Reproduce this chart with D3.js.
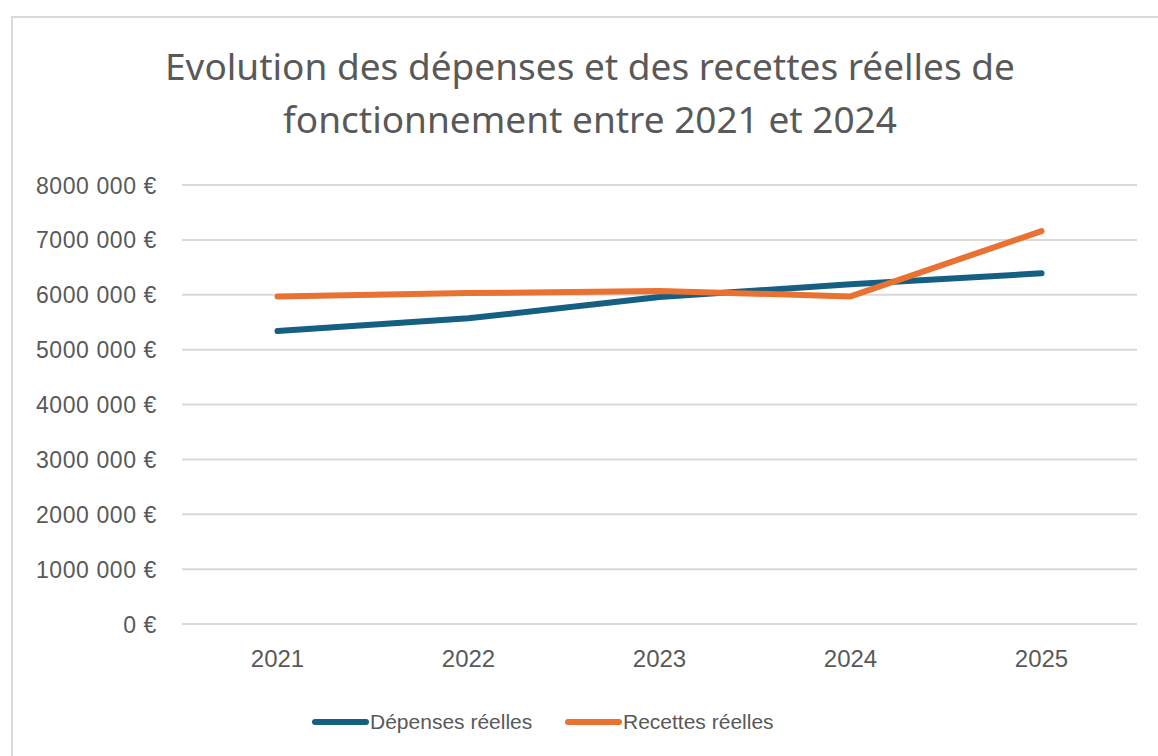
<!DOCTYPE html>
<html lang="fr">
<head>
<meta charset="UTF-8" />
<title>Evolution des dépenses et des recettes réelles</title>
<script src="https://cdn.jsdelivr.net/npm/d3@7"></script>
<style>
  body { margin: 0; background: #fff; }
  svg { display: block; font-family: "Liberation Sans", Arial, sans-serif; }
</style>
</head>
<body>
<svg id="chart" width="1158" height="756"></svg>
<script>
  // Data
  var years = ["2021", "2022", "2023", "2024", "2025"];
  var depenses = [5340000, 5570000, 5960000, 6190000, 6390000];
  var recettes = [5970000, 6030000, 6070000, 5970000, 7160000];
  var yTicks = [0, 1000000, 2000000, 3000000, 4000000, 5000000, 6000000, 7000000, 8000000];
  var titleLines = ["Evolution des dépenses et des recettes réelles de",
                    "fonctionnement entre 2021 et 2024"];
  var seriesNames = ["Dépenses réelles", "Recettes réelles"];
  var colors = ["#156082", "#e97132"];

  var svg = d3.select("#chart");
  var textColor = "#595959";

  // Chart frame (runs off the page on the right and bottom)
  svg.append("rect")
     .attr("x", 12).attr("y", 17)
     .attr("width", 1300).attr("height", 900)
     .attr("fill", "#fff")
     .attr("stroke", "#d9d9d9")
     .attr("stroke-width", 2);

  // Title
  svg.append("g").selectAll("text")
     .data(titleLines)
     .join("text")
     .attr("x", 590)
     .attr("y", (d, i) => 80 + i * 53)
     .attr("text-anchor", "middle")
     .attr("fill", textColor)
     .style("font-family", "'Noto Sans', sans-serif")
     .style("font-size", "37px")
     .text(d => d);

  var x = d3.scaleBand().domain(years).range([182, 1137]);
  var y = d3.scaleLinear().domain([0, 8000000]).range([624, 185]);

  function fmtEuro(v) {
    // "8000 000 €" style as shown in the reference
    if (v === 0) return "0 €";
    var s = String(v);
    return s.slice(0, s.length - 3) + " " + s.slice(-3) + " €";
  }

  // Gridlines
  svg.append("g").selectAll("line")
     .data(yTicks)
     .join("line")
     .attr("x1", 182).attr("x2", 1137)
     .attr("y1", d => y(d)).attr("y2", d => y(d))
     .attr("stroke", "#d9d9d9")
     .attr("stroke-width", 2);

  // Y axis labels
  var yAxis = d3.axisLeft(y).tickValues(yTicks).tickFormat(fmtEuro).tickSize(0).tickPadding(0);
  var gy = svg.append("g").attr("transform", "translate(157,0)").call(yAxis);
  gy.select(".domain").remove();
  gy.selectAll("text")
    .attr("fill", textColor)
    .attr("dy", "0.35em")
    .style("font-size", "23px")
    .style("letter-spacing", "0.6px")
    .style("font-family", "'Liberation Sans', Arial, sans-serif");

  // X axis labels
  var xAxis = d3.axisBottom(x).tickSize(0).tickPadding(0);
  var gx = svg.append("g").attr("transform", "translate(0,650)").call(xAxis);
  gx.select(".domain").remove();
  gx.selectAll("text")
    .attr("fill", textColor)
    .attr("dy", "0.71em")
    .style("font-size", "24px")
    .style("font-family", "'Liberation Sans', Arial, sans-serif");

  // Lines
  var line = d3.line()
     .x((d, i) => x(years[i]) + x.bandwidth() / 2)
     .y(d => y(d));

  [depenses, recettes].forEach(function(series, k) {
    svg.append("path")
       .datum(series)
       .attr("d", line)
       .attr("fill", "none")
       .attr("stroke", colors[k])
       .attr("stroke-width", 6)
       .attr("stroke-linecap", "round")
       .attr("stroke-linejoin", "round");
  });

  // Legend
  var legendX = [315, 568];
  var lg = svg.append("g").selectAll("g")
     .data(seriesNames)
     .join("g")
     .attr("transform", (d, i) => "translate(" + legendX[i] + ",722)");
  lg.append("line")
    .attr("x1", 0).attr("x2", 51)
    .attr("stroke", (d, i) => colors[i])
    .attr("stroke-width", 6)
    .attr("stroke-linecap", "round");
  lg.append("text")
    .attr("x", 55)
    .attr("dy", "0.35em")
    .attr("fill", textColor)
    .style("font-size", "21px")
    .style("font-family", "'Liberation Sans', Arial, sans-serif")
    .text(d => d);
</script>
</body>
</html>
